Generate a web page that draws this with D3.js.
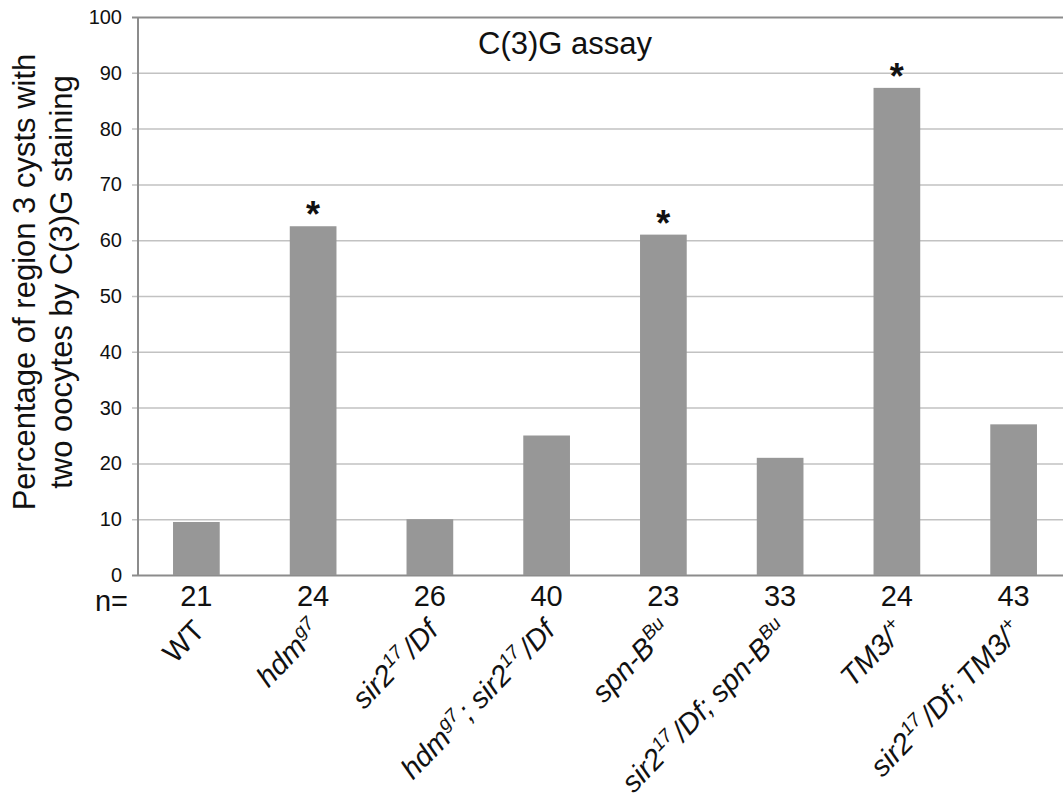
<!DOCTYPE html>
<html>
<head>
<meta charset="utf-8">
<script src="https://cdn.jsdelivr.net/npm/d3@7"></script>
<style>
  body { margin: 0; background: #fff; }
  text { font-family: "Liberation Sans", Arial, sans-serif; fill: #111; }
</style>
</head>
<body>
<script>
// genotype labels, ^{...} marks a superscript
let genotypes = [
  "WT",
  "hdm^{g7}",
  "sir2^{17}/Df",
  "hdm^{g7}; sir2^{17}/Df",
  "spn-B^{Bu}",
  "sir2^{17}/Df; spn-B^{Bu}",
  "TM3/^{+}",
  "sir2^{17}/Df; TM3/^{+}"
];
let nCounts = [21, 24, 26, 40, 23, 33, 24, 43];
let percent = [9.5, 62.5, 10, 25, 61, 21, 87.3, 27];
let significant = [false, true, false, false, true, false, true, false];
let yTicks = [0, 10, 20, 30, 40, 50, 60, 70, 80, 90, 100];

let width = 1063, height = 809;
let margin = { top: 17, left: 138, bottom: 234, right: -9 };

let svg = d3.select('body').append('svg').attr('width', width).attr('height', height);

let x = d3.scaleBand().domain(d3.range(genotypes.length))
  .range([margin.left, width - margin.right])
  .paddingInner(0.6).paddingOuter(0.3);

let y = d3.scaleLinear().domain([0, 100]).range([height - margin.bottom, margin.top]);

// gridlines + ticks
let yAxis = d3.axisLeft(y).tickValues(yTicks).tickSize(-(width - margin.right - margin.left)).tickPadding(16);
let gy = svg.append('g').attr('transform', 'translate(' + margin.left + ',0)').call(yAxis);
gy.select('.domain').remove();
gy.selectAll('.tick line').attr('x1', -6).attr('stroke', '#c2c2c2').attr('stroke-width', 1.5);
gy.selectAll('.tick').filter(d => d == 100 || d == 0).select('line').attr('stroke', '#8c8c8c').attr('stroke-width', 2);
gy.selectAll('.tick text').style('font-size', '20px').attr('fill', '#111');

// bars
svg.selectAll('.bar').data(percent).enter().append('rect').attr('class', 'bar')
  .attr('x', (d, i) => x(i))
  .attr('width', x.bandwidth())
  .attr('y', d => y(d))
  .attr('height', d => y(0) - y(d))
  .attr('fill', '#979797');

// y axis line
svg.append('line')
  .attr('x1', margin.left).attr('x2', margin.left)
  .attr('y1', y(100)).attr('y2', y(0))
  .attr('stroke', '#8c8c8c').attr('stroke-width', 2);

// significance stars
svg.selectAll('.star').data(percent.map((v, i) => ({ v: v, i: i })).filter(d => significant[d.i]))
  .enter().append('text').attr('class', 'star')
  .attr('x', d => x(d.i) + x.bandwidth() / 2)
  .attr('y', d => y(d.v) + 1)
  .attr('text-anchor', 'middle')
  .style('font-size', '36px').style('font-weight', 'bold')
  .text('*');

// title
svg.append('text').attr('x', 565).attr('y', 54).attr('text-anchor', 'middle')
  .style('font-size', '31px').text('C(3)G assay');

// y axis title, two lines
let yTitle = ['Percentage of region 3 cysts with', 'two oocytes by C(3)G staining'];
svg.selectAll('.ytitle').data(yTitle).enter().append('text').attr('class', 'ytitle')
  .attr('transform', (d, i) => 'translate(' + (35 + i * 37) + ',282) rotate(-90)')
  .attr('text-anchor', 'middle')
  .style('font-size', '31px')
  .text(d => d);

// n counts
svg.append('text').attr('x', 128).attr('y', 611).attr('text-anchor', 'end')
  .style('font-size', '29px').text('n=');
svg.selectAll('.ncount').data(nCounts).enter().append('text').attr('class', 'ncount')
  .attr('x', (d, i) => x(i) + x.bandwidth() / 2)
  .attr('y', 606)
  .attr('text-anchor', 'middle')
  .style('font-size', '29px')
  .text(d => d);

// rotated genotype labels
function parts(s) {
  let out = [], re = /\^\{([^}]*)\}/g, last = 0, m;
  while ((m = re.exec(s)) !== null) {
    if (m.index > last) out.push({ t: s.slice(last, m.index), sup: false });
    out.push({ t: m[1], sup: true });
    last = re.lastIndex;
  }
  if (last < s.length) out.push({ t: s.slice(last), sup: false });
  return out;
}

let labels = svg.selectAll('.glabel').data(genotypes).enter().append('text').attr('class', 'glabel')
  .attr('transform', (d, i) => 'translate(' + (x(i) + x.bandwidth() / 2 + 10) + ',632) rotate(-46)')
  .attr('text-anchor', 'end')
  .style('font-size', '29px')
  .style('font-style', d => d == 'WT' ? 'normal' : 'italic');

labels.each(function(d) {
  let t = d3.select(this);
  let segs = parts(d);
  segs.forEach(function(s, k) {
    let ts = t.append('tspan').text(s.t);
    if (s.sup) {
      ts.style('font-size', '19px').attr('dy', -11).attr('dx', 1);
    } else if (k > 0 && segs[k - 1].sup) {
      ts.attr('dy', 11).attr('dx', 3);
    }
  });
});
</script>
</body>
</html>
